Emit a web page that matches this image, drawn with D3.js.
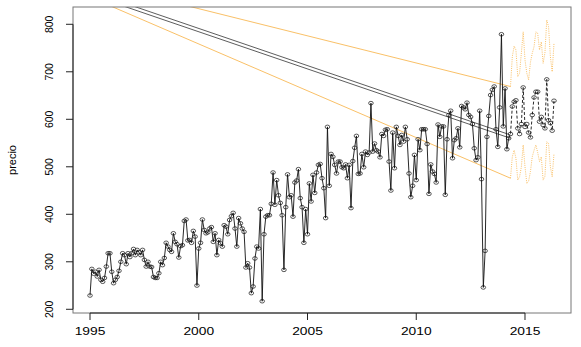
<!DOCTYPE html>
<html><head><meta charset="utf-8">
<script src="https://cdn.jsdelivr.net/npm/d3@7"></script>
<style>body{margin:0;background:#fff}svg{display:block}text{font-family:"Liberation Sans",Arial,sans-serif;fill:#000}</style>
</head><body><svg id="c" width="581" height="347"></svg>
<script>
// observed monthly series, Jan 1995 onward
const startYear = 1995;
const observed = [229,285,275,279,269,283,262,258,266,290,318,318,279,255,262,268,281,300,318,314,295,318,310,318,327,314,325,320,314,325,304,290,300,290,289,268,266,266,276,300,293,308,340,332,325,321,360,
342,337,309,333,335,386,389,345,346,340,365,353,250,328,340,389,367,360,362,370,373,342,360,314,346,339,332,377,374,358,388,396,403,370,332,392,381,370,363,288,297,288,234,248,307,332,328,411,217,
358,395,398,398,422,488,420,472,440,424,398,283,415,484,436,440,395,467,471,495,434,415,340,411,358,465,427,483,445,488,504,506,476,455,392,584,460,527,521,504,486,511,511,499,
497,505,476,504,413,512,540,565,485,486,527,499,532,525,530,634,532,549,535,532,520,569,565,578,579,511,450,572,497,584,565,546,567,553,584,558,486,436,460,525,472,558,535,579,579,579,548,443,
505,490,485,467,589,563,585,585,441,558,609,618,518,556,560,581,541,628,625,621,635,609,605,590,539,514,520,618,474,246,323,563,607,651,662,669,579,542,625,779,585,665,537,560];
// forecast (mean) and interval bounds, monthly after observed
const forecast = [569,627,637,640,581,569,590,667,584,590,572,562,609,646,658,658,595,605,588,581,684,598,592,576,639];
const upper = [669,732,754,746,690,697,740,784,725,697,683,720,739,753,784,781,746,763,718,740,809,795,732,700,760];
const lower = [476,521,535,518,472,479,500,546,500,465,470,490,521,535,546,530,511,521,472,480,553,549,500,479,528];
// straight lines: [x0, y0, x1, y1]
const blackLines = [[1995,869.5,2014.333,567],[1995,862.5,2014.333,560]];
const orangeLines = [[1995,890,2014.333,669],[1995,857.2,2014.333,476]];
const xTicks = [1995,2000,2005,2010,2015];
const yTicks = [200,300,400,500,600,700,800];
const yLabel = "precio";

const svg = d3.select("#c");
const L=73,R=571,T=7,B=313;
const x = d3.scaleLinear().domain([1994.218,2017.115]).range([L,R]);
const y = d3.scaleLinear().domain([192.2,836.4]).range([B,T]);

svg.append("clipPath").attr("id","clip").append("rect").attr("x",L).attr("y",T).attr("width",R-L).attr("height",B-T);
const g = svg.append("g").attr("clip-path","url(#clip)");

const obs = observed.map((v,i)=>({t:startYear+i/12,v}));
const n = observed.length;
const fc = forecast.map((v,i)=>({t:startYear+(n+i)/12,v}));
const up = upper.map((v,i)=>({t:startYear+(n+i)/12,v}));
const lo = lower.map((v,i)=>({t:startYear+(n+i)/12,v}));
const line = d3.line().x(d=>x(d.t)).y(d=>y(d.v));
const ORANGE = "#f8b040";

g.selectAll(".bl").data(blackLines).join("line").attr("x1",d=>x(d[0])).attr("y1",d=>y(d[1])).attr("x2",d=>x(d[2])).attr("y2",d=>y(d[3])).attr("stroke","#333").attr("stroke-width",0.8);
g.selectAll(".ol").data(orangeLines).join("line").attr("x1",d=>x(d[0])).attr("y1",d=>y(d[1])).attr("x2",d=>x(d[2])).attr("y2",d=>y(d[3])).attr("stroke",ORANGE).attr("stroke-width",0.8);

[up,lo].forEach(b=>g.append("path").datum(b).attr("d",line).attr("fill","none").attr("stroke",ORANGE).attr("stroke-width",0.8).attr("stroke-dasharray","1,1.2"));

g.append("path").datum(obs).attr("d",line).attr("fill","none").attr("stroke","#111").attr("stroke-width",0.9);
g.append("path").datum([obs[n-1]].concat(fc)).attr("d",line).attr("fill","none").attr("stroke","#111").attr("stroke-width",0.9).attr("stroke-dasharray","3,2");
g.selectAll(".p").data(obs.concat(fc)).join("ellipse").attr("cx",d=>x(d.t)).attr("cy",d=>y(d.v)).attr("rx",2.3).attr("ry",1.8).attr("fill","none").attr("stroke","#111").attr("stroke-width",0.7);

svg.append("rect").attr("x",L).attr("y",T).attr("width",R-L).attr("height",B-T).attr("fill","none").attr("stroke","#777").attr("stroke-width",1);
svg.append("line").attr("x1",L).attr("x2",L).attr("y1",y(200)).attr("y2",y(800)).attr("stroke","#222");
yTicks.forEach(t=>{
  svg.append("line").attr("x1",L-7).attr("x2",L).attr("y1",y(t)).attr("y2",y(t)).attr("stroke","#222");
  svg.append("text").attr("transform",`translate(${L-20},${y(t)}) rotate(-90)`).attr("text-anchor","middle").attr("font-size",10.5).text(t);
});
svg.append("line").attr("x1",x(1995)).attr("x2",x(2015)).attr("y1",B).attr("y2",B).attr("stroke","#222");
xTicks.forEach(t=>{
  svg.append("line").attr("x1",x(t)).attr("x2",x(t)).attr("y1",B).attr("y2",B+7).attr("stroke","#222");
  svg.append("text").attr("transform",`translate(${x(t)},335) scale(1.2,1)`).attr("text-anchor","middle").attr("font-size",11.5).text(t);
});
svg.append("text").attr("transform",`translate(16,160) rotate(-90)`).attr("text-anchor","middle").attr("font-size",11).text(yLabel);
</script></body></html>
